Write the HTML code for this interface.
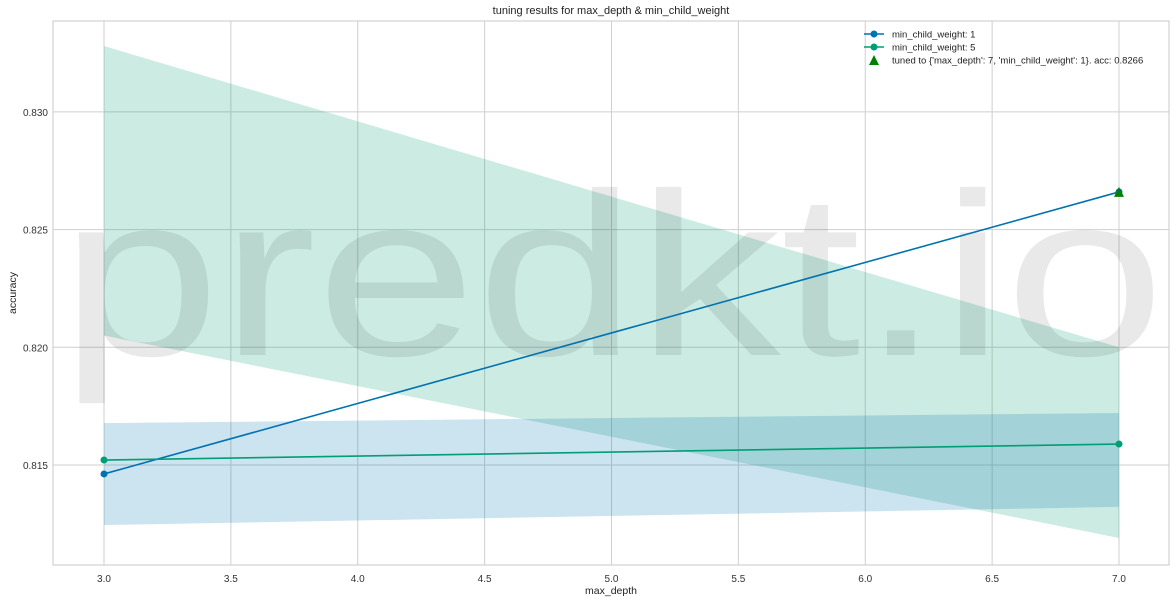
<!DOCTYPE html>
<html><head><meta charset="utf-8"><style>
body{margin:0;background:#fff;}
svg{display:block;font-family:"Liberation Sans",sans-serif;}
</style></head><body>
<svg id="chart" width="1176" height="602" viewBox="0 0 1176 602"></svg>
<script>
const xTicks=[3.0,3.5,4.0,4.5,5.0,5.5,6.0,6.5,7.0];
const yTicks=[0.815,0.820,0.825,0.830];
const depths=[3,7];
const acc1=[0.81462,0.8266];
const acc1Upper=[0.81678,0.81721];
const acc1Lower=[0.81245,0.81322];
const acc5=[0.81521,0.81589];
const acc5Upper=[0.8328,0.8200];
const acc5Lower=[0.8205,0.8119];
const best=[7,0.8266];

const L=53,R=1169,T=21,B=565;
const x=v=>104+(v-3)*253.75;
const y=v=>465-(v-0.815)/0.005*117.7;
const svg=document.getElementById('chart');
const NS='http://www.w3.org/2000/svg';
function mk(tag,attrs,parent){const e=document.createElementNS(NS,tag);for(const k in attrs)e.setAttribute(k,attrs[k]);(parent||svg).appendChild(e);return e;}
let e;
e=mk('rect',{x:L,y:T,width:R-L,height:B-T,fill:'#fff',stroke:'#c8c8c8'});


xTicks.forEach(t=>{
 e=mk('line',{x1:x(t),x2:x(t),y1:T,y2:B,stroke:'#cfcfcf'});
 
 
 e=mk('text',{x:x(t),y:582,'font-size':10,'text-anchor':'middle',fill:'#333'});e.textContent=t.toFixed(1);
 
 
});
yTicks.forEach(t=>{
 e=mk('line',{x1:L,x2:R,y1:y(t),y2:y(t),stroke:'#cfcfcf'});
 
 
 e=mk('text',{x:48,y:y(t)+4,'font-size':10,'text-anchor':'end',fill:'#333'});e.textContent=t.toFixed(3);
 
 
});
function band(up,lo,color,name){
 const p=depths.map((d,i)=>x(d)+','+y(up[i])).concat(depths.map((d,i)=>x(d)+','+y(lo[i])).reverse());
 e=mk('polygon',{points:p.join(' '),fill:color,'fill-opacity':0.2});
 
 
}
band(acc5Upper,acc5Lower,'#009e73','band-min-child-weight-5');
band(acc1Upper,acc1Lower,'#0072b2','band-min-child-weight-1');
e=mk('text',{x:60,y:355,'font-size':232,fill:'#000','fill-opacity':0.085,textLength:1105,lengthAdjust:'spacingAndGlyphs'});e.textContent='predkt.io';


function series(vals,color,name){
 e=mk('polyline',{points:depths.map((d,i)=>x(d)+','+y(vals[i])).join(' '),fill:'none',stroke:color,'stroke-width':1.6});
 
 
 depths.forEach((d,i)=>{e=mk('circle',{cx:x(d),cy:y(vals[i]),r:3.5,fill:color});
 
 });
}
series(acc1,'#0072b2','series-min-child-weight-1');
series(acc5,'#009e73','series-min-child-weight-5');
const bx=x(best[0]),by=y(best[1]);
e=mk('polygon',{points:`${bx-5},${by+5} ${bx+5},${by+5} ${bx},${by-5}`,fill:'#008000'});


const lg=mk('g',{});


const items=[['line','#0072b2','min_child_weight: 1'],['line','#009e73','min_child_weight: 5'],['tri','#008000',"tuned to {'max_depth': 7, 'min_child_weight': 1}.  acc: 0.8266"]];
items.forEach((it,i)=>{
 const yy=34+i*13;
 if(it[0]==='line'){mk('line',{x1:864,x2:884,y1:yy,y2:yy,stroke:it[1],'stroke-width':1.6},lg);mk('circle',{cx:874,cy:yy,r:3.5,fill:it[1]},lg);}
 else mk('polygon',{points:`869,${yy+5} 879,${yy+5} 874,${yy-5}`,fill:it[1]},lg);
 e=mk('text',{x:892,y:yy+3.5,'font-size':9.5,fill:'#222','xml:space':'preserve'},lg);e.textContent=it[2];
 
 
});
e=mk('text',{x:611,y:14,'font-size':11,'text-anchor':'middle',fill:'#222'});e.textContent='tuning results for max_depth & min_child_weight';


e=mk('text',{x:611,y:594,'font-size':10.5,'text-anchor':'middle',fill:'#222'});e.textContent='max_depth';


e=mk('text',{x:16,y:293,'font-size':10.5,'text-anchor':'middle',fill:'#222',transform:'rotate(-90 16 293)'});e.textContent='accuracy';


</script>
</body></html>
